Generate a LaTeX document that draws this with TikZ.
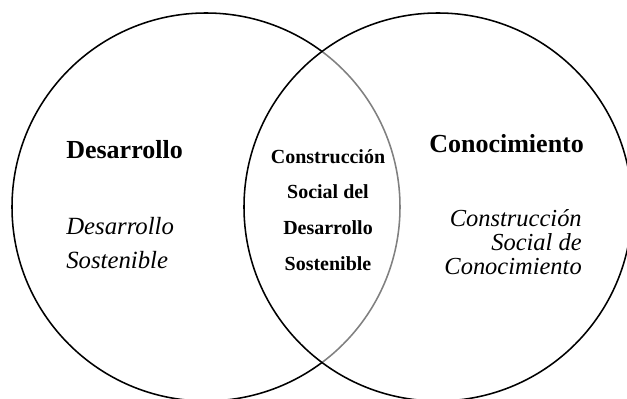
\documentclass[tikz,border=0pt]{standalone}
\usepackage{fontspec}
\setmainfont{Liberation Serif}
\tikzset{
  ring/.style={line width=1.1pt},
  titulo/.style={inner sep=0pt, font=\bfseries\fontsize{18.5}{22}\selectfont},
  centro/.style={inner sep=0pt, align=center, font=\bfseries\fontsize{14.2}{25.6}\selectfont},
  lista/.style={inner sep=0pt, font=\itshape\fontsize{17.6}{24.2}\selectfont},
  listaj/.style={inner sep=0pt, font=\itshape\fontsize{17.4}{17.1}\selectfont},
}
\begin{document}
\begin{tikzpicture}[x=0.025cm,y=-0.025cm]
\useasboundingbox (0,0) rectangle (627,399);
\clip (0,0) rectangle (627,399);
% los dos conjuntos
\coordinate (cd) at (206,207);
\coordinate (cc) at (438,207);
\draw[ring] (cd) circle [radius=194];
\draw[ring, fill=white, fill opacity=0.5] (cc) circle [radius=194];
% textos (base = ultima linea)
\node[titulo, anchor=base west] (des) at (66,159) {Desarrollo};
\node[titulo, anchor=base west] (con) at (429,153) {Conocimiento};
\node[lista, anchor=base west, align=left] (ds) at (66,269) {Desarrollo\\Sostenible};
\node[listaj, anchor=base east, align=right] (csc) at (582,275) {Construcción\\Social de\\Conocimiento};
\node[centro, anchor=base] (csd) at (328,271) {Construcción\\Social del\\Desarrollo\\Sostenible};
\end{tikzpicture}
\end{document}
